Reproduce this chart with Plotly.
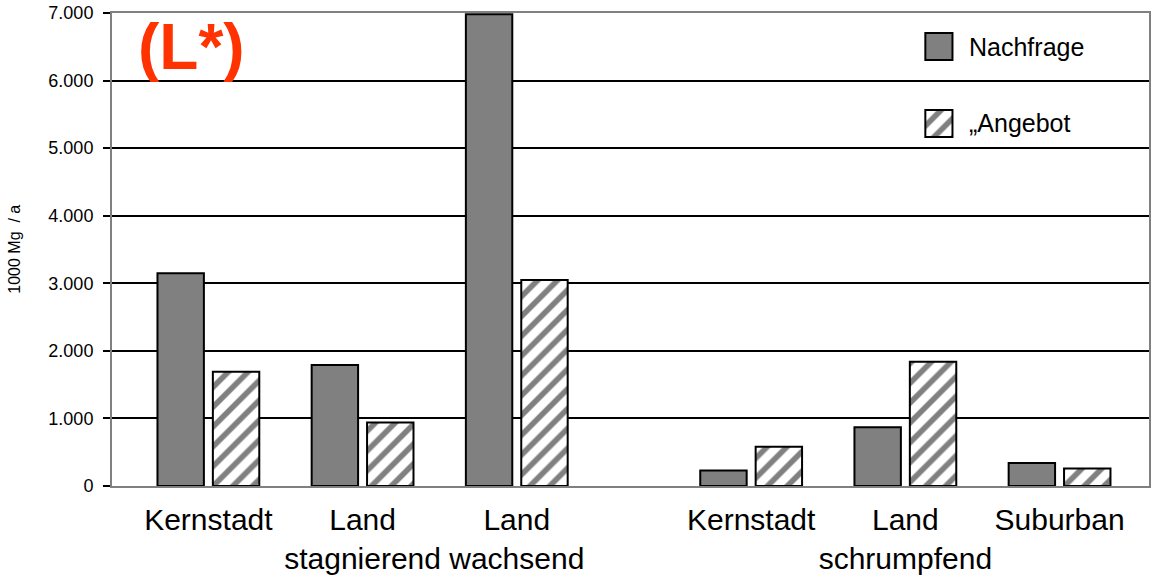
import plotly.graph_objects as go

# ---- data ----
categories = ["Kernstadt", "Land<br>stagnierend", "Land<br>wachsend",
              "Kernstadt", "Land<br>schrumpfend", "Suburban"]
block = [0, 0, 0, 1, 1, 1]          # two blocks of regions
nachfrage = [3150, 1790, 6980, 230, 870, 340]
angebot = [1690, 940, 3050, 580, 1840, 260]
y_ticks = [0, 1000, 2000, 3000, 4000, 5000, 6000, 7000]

# ---- layout helpers ----
W, H = 1153, 577
L, R, T, B = 112, 1151, 13, 486
BLOCK_GAP = 0.52
xpos = [i + BLOCK_GAP * b for i, b in enumerate(block)]

def px_x(p):
    return (p - L) / (R - L)

def px_y(p):
    return (B - p) / (B - T)

GRAY = "#808080"
FONT = "Liberation Sans, Arial, sans-serif"

fig = go.Figure()
fig.add_trace(go.Bar(x=xpos, y=nachfrage, name="Nachfrage",
                     marker=dict(color=GRAY, line=dict(color="black", width=2)),
                     showlegend=False))
fig.add_trace(go.Bar(x=xpos, y=angebot, name="„Angebot",
                     marker=dict(color="white", line=dict(color="black", width=2),
                                 pattern=dict(shape="/", fgcolor=GRAY, bgcolor="white",
                                              size=14, solidity=0.4, fillmode="replace")),
                     showlegend=False))

# legend swatches drawn as tiny bar subplots
sw = [(927, 954, 33, 60), (927, 954, 110, 137)]
for k, (x0, x1, y0, y1) in enumerate(sw):
    ax = k + 2
    if k == 0:
        mk = dict(color=GRAY, line=dict(color="black", width=2))
    else:
        mk = dict(color="white", line=dict(color="black", width=2),
                  pattern=dict(shape="/", fgcolor=GRAY, bgcolor="white",
                               size=14, solidity=0.4, fillmode="replace"))
    fig.add_trace(go.Bar(x=[0], y=[1], width=[1], marker=mk, showlegend=False,
                         hoverinfo="skip", xaxis=f"x{ax}", yaxis=f"y{ax}"))
    fig.update_layout(**{
        f"xaxis{ax}": dict(domain=[px_x(x0 - 2), px_x(x1 + 2)], range=[-0.57, 0.57],
                           visible=False, anchor=f"y{ax}", fixedrange=True),
        f"yaxis{ax}": dict(domain=[px_y(y1 + 2), px_y(y0 - 2)], range=[-0.07, 1.07],
                           visible=False, anchor=f"x{ax}", fixedrange=True),
    })

legend_text = ["Nachfrage", "„Angebot"]
for k, t in enumerate(legend_text):
    y0, y1 = sw[k][2], sw[k][3]
    fig.add_annotation(text=t, xref="paper", yref="paper", x=px_x(969),
                       y=px_y((y0 + y1) / 2), xanchor="left", yanchor="middle",
                       showarrow=False, font=dict(family=FONT, size=25, color="black"))

fig.add_annotation(text="<b>(L*)</b>", xref="paper", yref="paper",
                   x=px_x(136), y=px_y(47), xanchor="left", yanchor="middle",
                   showarrow=False, font=dict(family=FONT, size=64, color="#FF3300"))

fig.add_annotation(text="1000 Mg  / a", xref="paper", yref="paper",
                   x=px_x(14), y=0.5, xanchor="center", yanchor="middle", textangle=-90,
                   showarrow=False, font=dict(family=FONT, size=16, color="black"))

fig.update_layout(
    width=W, height=H,
    margin=dict(l=L, r=W - R, t=T, b=H - B),
    paper_bgcolor="white", plot_bgcolor="white",
    barmode="group", bargap=0.2815, bargroupgap=0.162,
    separators=",.",
    showlegend=False,
    font=dict(family=FONT, color="black"),
    xaxis=dict(range=[-0.625, 6.1], tickmode="array", tickvals=xpos, ticktext=categories,
               showgrid=False, zeroline=False, showline=True, linecolor=GRAY, linewidth=2,
               mirror=True, ticks="", ticklabelstandoff=6,
               tickfont=dict(size=30, family=FONT, color="black")),
    yaxis=dict(range=[0, 7000], tickmode="array", tickvals=y_ticks, tickformat=",d",
               showgrid=True, gridcolor="black", gridwidth=2, zeroline=False,
               showline=True, linecolor=GRAY, linewidth=2, mirror=True,
               ticks="outside", ticklen=7, tickcolor="black", tickwidth=2,
               tickfont=dict(size=18, family=FONT, color="black"), ticklabelstandoff=6),
)

fig.write_html("out.html")
